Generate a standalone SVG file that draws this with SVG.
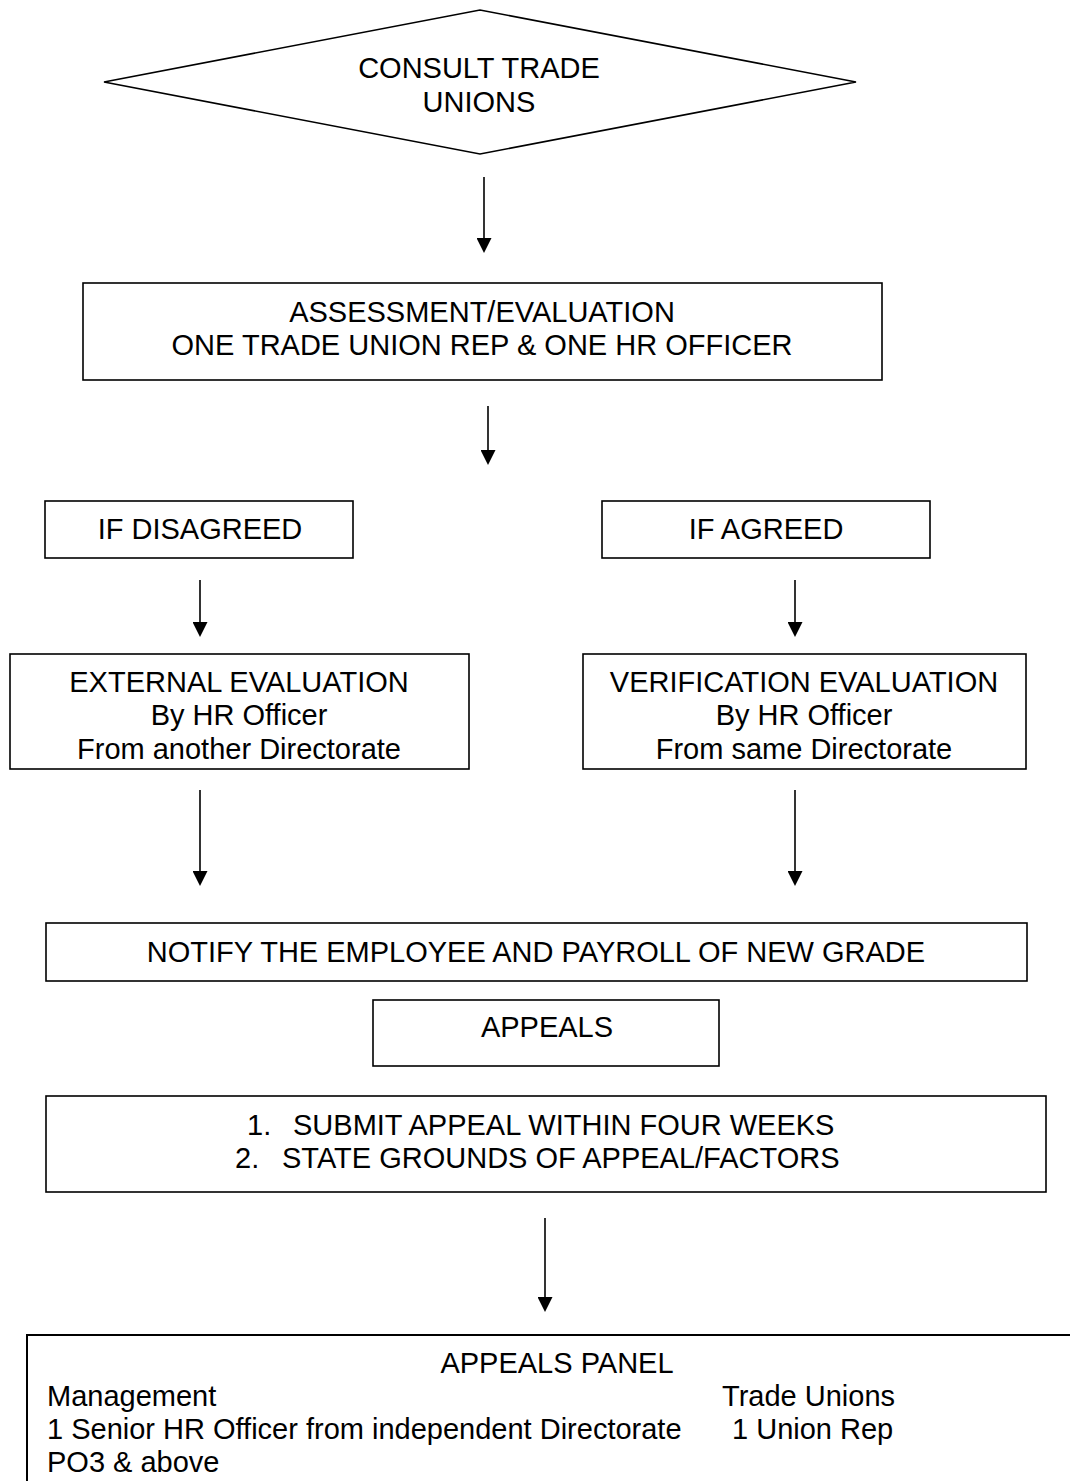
<svg xmlns="http://www.w3.org/2000/svg" width="1070" height="1481" viewBox="0 0 1070 1481">
<style>
.box{fill:#fff;stroke:#000;stroke-width:1.6}
.t{font-family:"Liberation Sans",Arial,sans-serif;font-size:29px;fill:#000}
.c{text-anchor:middle}
.conn{stroke:#000;stroke-width:1.6;fill:none}
</style>
<defs>
<marker id="arr" markerUnits="userSpaceOnUse" markerWidth="15" markerHeight="15" refX="13" refY="7.5" orient="auto">
<path d="M0,0 L15,7.5 L0,15 z" fill="#000"/>
</marker>
</defs>
<rect width="1070" height="1481" fill="#fff"/>
<g id="connectors">
<line class="conn" x1="484" y1="177" x2="484" y2="251" marker-end="url(#arr)"/>
<line class="conn" x1="488" y1="406" x2="488" y2="463" marker-end="url(#arr)"/>
<line class="conn" x1="200" y1="580" x2="200" y2="635" marker-end="url(#arr)"/>
<line class="conn" x1="795" y1="580" x2="795" y2="635" marker-end="url(#arr)"/>
<line class="conn" x1="200" y1="790" x2="200" y2="884" marker-end="url(#arr)"/>
<line class="conn" x1="795" y1="790" x2="795" y2="884" marker-end="url(#arr)"/>
<line class="conn" x1="545" y1="1218" x2="545" y2="1310" marker-end="url(#arr)"/>
</g>
<g id="consult">
<polygon class="box" points="104,82 480,10 856,82 480,154"/>
<text class="t c" x="479" y="78">CONSULT TRADE</text>
<text class="t c" x="479" y="112">UNIONS</text>
</g>
<g id="assessment">
<rect class="box" x="83" y="283" width="799" height="97"/>
<text class="t c" x="482" y="322">ASSESSMENT/EVALUATION</text>
<text class="t c" x="482" y="355">ONE TRADE UNION REP &amp; ONE HR OFFICER</text>
</g>
<g id="disagreed">
<rect class="box" x="45" y="501" width="308" height="57"/>
<text class="t c" x="200" y="539">IF DISAGREED</text>
</g>
<g id="agreed">
<rect class="box" x="602" y="501" width="328" height="57"/>
<text class="t c" x="766" y="539">IF AGREED</text>
</g>
<g id="external">
<rect class="box" x="10" y="654" width="459" height="115"/>
<text class="t c" x="239" y="692">EXTERNAL EVALUATION</text>
<text class="t c" x="239" y="725">By HR Officer</text>
<text class="t c" x="239" y="759">From another Directorate</text>
</g>
<g id="verification">
<rect class="box" x="583" y="654" width="443" height="115"/>
<text class="t c" x="804" y="692">VERIFICATION EVALUATION</text>
<text class="t c" x="804" y="725">By HR Officer</text>
<text class="t c" x="804" y="759">From same Directorate</text>
</g>
<g id="notify">
<rect class="box" x="46" y="923" width="981" height="58"/>
<text class="t c" x="536" y="962">NOTIFY THE EMPLOYEE AND PAYROLL OF NEW GRADE</text>
</g>
<g id="appeals">
<rect class="box" x="373" y="1000" width="346" height="66"/>
<text class="t c" x="547" y="1037">APPEALS</text>
</g>
<g id="submit">
<rect class="box" x="46" y="1096" width="1000" height="96"/>
<text class="t" x="247" y="1135">1.</text>
<text class="t" x="293" y="1135">SUBMIT APPEAL WITHIN FOUR WEEKS</text>
<text class="t" x="235" y="1168">2.</text>
<text class="t" x="282" y="1168">STATE GROUNDS OF APPEAL/FACTORS</text>
</g>
<g id="panel">
<rect class="box" x="27" y="1335" width="1100" height="200" style="stroke-width:2"/>
<text class="t c" x="557" y="1373">APPEALS PANEL</text>
<text class="t" x="47" y="1406">Management</text>
<text class="t" x="722" y="1406">Trade Unions</text>
<text class="t" x="47" y="1439">1 Senior HR Officer from independent Directorate</text>
<text class="t" x="732" y="1439">1 Union Rep</text>
<text class="t" x="47" y="1472">PO3 &amp; above</text>
</g>
</svg>
